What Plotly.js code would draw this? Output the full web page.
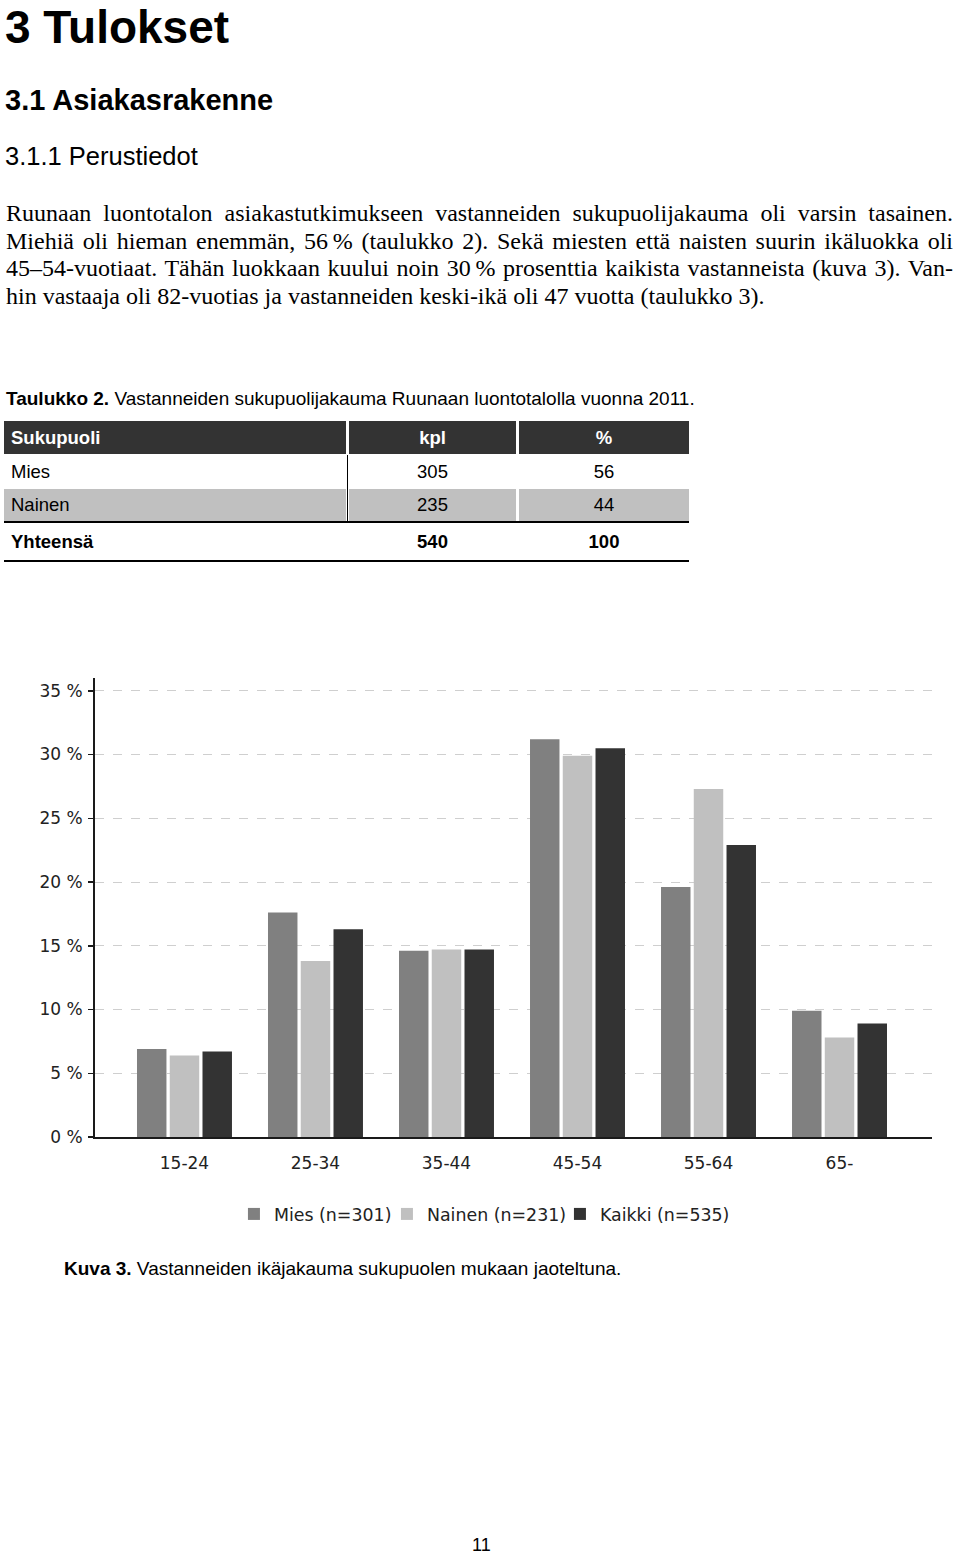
<!DOCTYPE html>
<html>
<head>
<meta charset="utf-8">
<script src="https://cdn.plot.ly/plotly-3.0.1.min.js"></script>
<style>
  html, body { margin:0; padding:0; background:#fff; }
  body { width:960px; height:1555px; position:relative; overflow:hidden; color:#000; }
  .abs { position:absolute; white-space:nowrap; }
  .sans { font-family:"Liberation Sans", Arial, sans-serif; }
  .serif { font-family:"Liberation Serif", "Times New Roman", serif; }
  .bodyline { position:absolute; left:6px; width:947px; font-size:24px; line-height:27.8px; height:27.8px; white-space:nowrap; }
  .just { text-align:justify; text-align-last:justify; white-space:normal; }
  .cell { position:absolute; display:flex; align-items:center; font-size:18.5px; }
</style>
</head>
<body>
<div id="page"></div>
<div id="chart" style="position:absolute;left:0;top:660px;width:960px;height:580px;"></div>
<script>
// ---------- data ----------
const categories = ['15-24', '25-34', '35-44', '45-54', '55-64', '65-'];
const miesValues = [6.9, 17.6, 14.6, 31.2, 19.6, 9.9];
const nainenValues = [6.4, 13.8, 14.7, 29.9, 27.3, 7.8];
const kaikkiValues = [6.7, 16.3, 14.7, 30.5, 22.9, 8.9];
const seriesNames = ['Mies (n=301)', 'Nainen (n=231)', 'Kaikki (n=535)'];
const yTickValues = [0, 5, 10, 15, 20, 25, 30, 35];
const yTickLabels = ['0 %', '5 %', '10 %', '15 %', '20 %', '25 %', '30 %', '35 %'];

const tableHeader = ['Sukupuoli', 'kpl', '%'];
const tableRows = [['Mies', '305', '56'], ['Nainen', '235', '44']];
const tableTotal = ['Yhteensä', '540', '100'];

const bodyLines = [
  'Ruunaan luontotalon asiakastutkimukseen vastanneiden sukupuolijakauma oli varsin tasainen.',
  'Miehiä oli hieman enemmän, 56\u2009% (taulukko 2). Sekä miesten että naisten suurin ikäluokka oli',
  '45\u201354-vuotiaat. Tähän luokkaan kuului noin 30\u2009% prosenttia kaikista vastanneista (kuva 3). Van-',
  'hin vastaaja oli 82-vuotias ja vastanneiden keski-ikä oli 47 vuotta (taulukko 3).'
];

// ---------- page text ----------
const page = document.getElementById('page');
function addDiv(cls, style, html) {
  const d = document.createElement('div');
  d.className = cls;
  d.setAttribute('style', style);
  d.innerHTML = html;
  page.appendChild(d);
  return d;
}
addDiv('abs sans', 'left:5px;top:0px;font-size:46px;line-height:normal;font-weight:bold;', '3 Tulokset');
addDiv('abs sans', 'left:5px;top:86px;font-size:29px;line-height:29px;font-weight:bold;', '3.1 Asiakasrakenne');
addDiv('abs sans', 'left:5px;top:144px;font-size:25.5px;line-height:25.5px;', '3.1.1 Perustiedot');
bodyLines.forEach((t, i) => {
  addDiv('serif bodyline' + (i < 3 ? ' just' : ''), 'top:' + (199.7 + i * 27.8) + 'px;', t);
});
addDiv('abs sans', 'left:6px;top:388.7px;font-size:19px;line-height:19px;',
  '<b>Taulukko 2.</b> Vastanneiden sukupuolijakauma Ruunaan luontotalolla vuonna 2011.');

// table
const cols = [[4, 346], [349, 516], [519, 689]];
function rect(x, y, w, h, color) {
  addDiv('abs', 'left:' + x + 'px;top:' + y + 'px;width:' + w + 'px;height:' + h + 'px;background:' + color + ';', '');
}
function cell(col, y, h, text, opts) {
  const [x0, x1] = cols[col];
  const align = col === 0 ? 'justify-content:flex-start;padding-left:7px;' : 'justify-content:center;';
  addDiv('cell sans', 'left:' + x0 + 'px;top:' + y + 'px;width:' + (x1 - x0 - (col === 0 ? 7 : 0)) + 'px;height:' + h + 'px;' + align + (opts || ''), text);
}
cols.forEach(([x0, x1]) => rect(x0, 421, x1 - x0, 33, '#333333'));
tableHeader.forEach((t, c) => cell(c, 421, 33, t, 'color:#fff;font-weight:bold;'));
tableRows[0].forEach((t, c) => cell(c, 456, 32, t, ''));
cols.forEach(([x0, x1]) => rect(x0, 489, x1 - x0, 32, '#c0c0c0'));
tableRows[1].forEach((t, c) => cell(c, 489, 32, t, ''));
rect(346.5, 455, 1.6, 67, '#000');
rect(4, 521, 685, 2.2, '#000');
tableTotal.forEach((t, c) => cell(c, 525, 33, t, 'font-weight:bold;'));
rect(4, 560, 685, 2.2, '#000');

addDiv('abs sans', 'left:64px;top:1258.7px;font-size:19px;line-height:19px;',
  '<b>Kuva 3.</b> Vastanneiden ikäjakauma sukupuolen mukaan jaoteltuna.');
addDiv('abs sans', 'left:472px;top:1536px;font-size:18px;line-height:18px;', '11');

// ---------- chart ----------
const colors = ['#808080', '#c0c0c0', '#333333'];
const valueSets = [miesValues, nainenValues, kaikkiValues];
const legendWidths = [108, 128, 130];
const traces = valueSets.map((vals, i) => ({
  type: 'bar',
  name: seriesNames[i],
  x: categories,
  y: vals,
  marker: { color: colors[i], line: { width: 0 } },
  legendwidth: legendWidths[i],
  hoverinfo: 'skip'
}));

const layout = {
  width: 960,
  height: 580,
  margin: { l: 95, r: 28, t: 18, b: 103, autoexpand: false },
  paper_bgcolor: '#fff',
  plot_bgcolor: '#fff',
  barmode: 'group',
  bargap: 0.25,
  bargroupgap: 0.1,
  font: { family: 'DejaVu Sans, sans-serif', size: 17, color: '#222' },
  showlegend: true,
  legend: {
    orientation: 'h',
    x: 0.166, xanchor: 'left',
    y: -0.168, yanchor: 'middle',
    font: { family: 'DejaVu Sans, sans-serif', size: 17.4, color: '#222' },
    bgcolor: 'rgba(0,0,0,0)',
    borderwidth: 0,
    traceorder: 'normal'
  },
  xaxis: {
    type: 'category',
    range: [-0.683, 5.706],
    showline: true, linecolor: '#1a1a1a', linewidth: 2,
    showgrid: false, zeroline: false,
    ticks: '',
    ticklabelstandoff: 10,
    tickfont: { family: 'DejaVu Sans, sans-serif', size: 17, color: '#222' },
    fixedrange: true
  },
  yaxis: {
    range: [0, 36],
    tickvals: yTickValues,
    ticktext: yTickLabels,
    showline: true, linecolor: '#1a1a1a', linewidth: 2,
    ticks: 'outside', ticklen: 5, tickwidth: 1.5, tickcolor: '#1a1a1a',
    ticklabelstandoff: 2,
    showgrid: true, gridcolor: '#cfcfcf', gridwidth: 1, griddash: 'dash',
    zeroline: false,
    tickfont: { family: 'DejaVu Sans, sans-serif', size: 17, color: '#222' },
    fixedrange: true
  }
};

Plotly.newPlot('chart', traces, layout, { displayModeBar: false, staticPlot: true });
</script>
</body>
</html>
